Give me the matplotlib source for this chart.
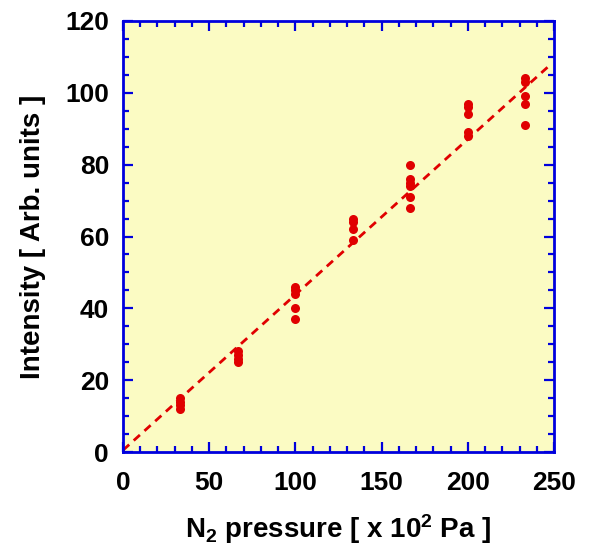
import numpy as np
import matplotlib
matplotlib.use("Agg")
import matplotlib.pyplot as plt
from matplotlib.ticker import MultipleLocator

# measured intensities at each N2 pressure (x 10^2 Pa)
pressure = [33.3, 66.7, 100.0, 133.3, 166.7, 200.0, 233.3]
intensity = [
    [12, 13, 14, 15],
    [25, 26, 27, 28],
    [37, 40, 44, 45, 46],
    [59, 62, 64, 65],
    [68, 71, 74, 75, 76, 80],
    [88, 89, 94, 96, 97],
    [91, 97, 99, 103, 104],
]

# linear fit
fit_slope = 0.433
fit_intercept = 0.5
fit_range = [0, 248]

plt.rcParams['font.family'] = ['Liberation Sans', 'DejaVu Sans']
plt.rcParams['font.weight'] = 'bold'
plt.rcParams['mathtext.fontset'] = 'custom'
plt.rcParams['mathtext.rm'] = 'Liberation Sans:bold'
plt.rcParams['mathtext.bf'] = 'Liberation Sans:bold'
plt.rcParams['mathtext.default'] = 'bf'

blue = '#0000dd'
red = '#e00000'

fig = plt.figure(figsize=(5.89, 5.47), dpi=100)
ax = fig.add_axes([123 / 589, 1 - 452 / 547, 431 / 589, 431 / 547])
ax.set_facecolor('#fbfbc3')

xs = np.array(fit_range, dtype=float)
ax.plot(xs, fit_slope * xs + fit_intercept, color=red, lw=2.0,
        linestyle=(0, (3, 2.2)), zorder=2)

for p, vals in zip(pressure, intensity):
    ax.plot([p] * len(vals), vals, 'o', color=red, markersize=6.5,
            markeredgewidth=0, zorder=3)

ax.set_xlim(0, 250)
ax.set_ylim(0, 120)
ax.xaxis.set_major_locator(MultipleLocator(50))
ax.xaxis.set_minor_locator(MultipleLocator(10))
ax.yaxis.set_major_locator(MultipleLocator(20))
ax.yaxis.set_minor_locator(MultipleLocator(5))

for s in ax.spines.values():
    s.set_color(blue)
    s.set_linewidth(2)

ax.tick_params(which='both', direction='in', top=True, right=True,
               color=blue, width=1.6, labelsize=19)
ax.tick_params(axis='x', pad=14)
ax.tick_params(axis='y', pad=10)
ax.tick_params(which='major', length=7)
ax.tick_params(which='minor', length=4)
for lab in ax.get_xticklabels() + ax.get_yticklabels():
    lab.set_fontweight('bold')

ax.set_xlabel('N$_2$ pressure [ x 10$^2$ Pa ]', fontsize=20,
              fontweight='bold', labelpad=12)
ax.set_ylabel('Intensity [ Arb. units ]', fontsize=20,
              fontweight='bold', labelpad=14)

fig.savefig('out.png', dpi=100)
